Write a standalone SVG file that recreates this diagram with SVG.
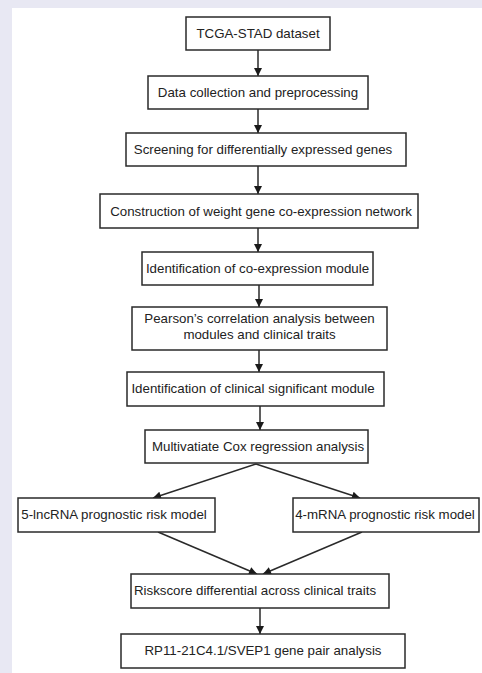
<svg xmlns="http://www.w3.org/2000/svg" width="482" height="673" viewBox="0 0 482 673">
<style>
.box{fill:#fff;stroke:#2a2a2a;stroke-width:1.5}
.t{font-family:"Liberation Sans",Arial,sans-serif;font-size:13.3px;fill:#222;text-anchor:middle;dominant-baseline:central}
.c{stroke:#2a2a2a;stroke-width:1.5;fill:none;marker-end:url(#ah)}
</style>
<defs>
<marker id="ah" viewBox="0 0 10 10" refX="10" refY="5" markerWidth="9" markerHeight="8" markerUnits="userSpaceOnUse" orient="auto">
<path d="M0,0 L10,5 L0,10 z" fill="#1a1a1a"/>
</marker>
</defs>
<rect x="0" y="0" width="482" height="673" fill="#e8e8f3"/>
<rect x="12" y="8" width="470" height="665" fill="#fff"/>
<g id="connectors">
<line class="c" x1="258" y1="50" x2="258" y2="76"/>
<line class="c" x1="258" y1="109" x2="258" y2="133"/>
<line class="c" x1="258" y1="166" x2="258" y2="194"/>
<line class="c" x1="258" y1="228" x2="258" y2="252"/>
<line class="c" x1="259" y1="285" x2="259" y2="307"/>
<line class="c" x1="259" y1="350" x2="259" y2="372"/>
<line class="c" x1="260" y1="406" x2="260" y2="430"/>
<line class="c" x1="256" y1="464" x2="153" y2="498"/>
<line class="c" x1="256" y1="464" x2="360" y2="498"/>
<line class="c" x1="158" y1="532" x2="257" y2="574"/>
<line class="c" x1="362" y1="532" x2="263" y2="574"/>
<line class="c" x1="260" y1="608" x2="260" y2="634"/>
</g>
<g id="n1"><rect class="box" x="186" y="17" width="144" height="33"/><text class="t" x="258" y="33.5">TCGA-STAD dataset</text></g>
<g id="n2"><rect class="box" x="148" y="76" width="220" height="33"/><text class="t" x="258" y="92.5">Data collection and preprocessing</text></g>
<g id="n3"><rect class="box" x="126" y="133" width="280" height="33"/><text class="t" x="263" y="149.5">Screening for differentially expressed genes</text></g>
<g id="n4"><rect class="box" x="100" y="194" width="318" height="34"/><text class="t" x="261" y="211">Construction of weight gene co-expression network</text></g>
<g id="n5"><rect class="box" x="142" y="252" width="231" height="33"/><text class="t" x="257.5" y="268">Identification of co-expression module</text></g>
<g id="n6"><rect class="box" x="132" y="307" width="255" height="43"/><text class="t" x="259.5" y="318.5">Pearson’s correlation analysis between</text><text class="t" x="259.5" y="334.5">modules and clinical traits</text></g>
<g id="n7"><rect class="box" x="127" y="372" width="257" height="34"/><text class="t" x="253" y="388.5">Identification of clinical significant module</text></g>
<g id="n8"><rect class="box" x="145" y="430" width="223" height="33"/><text class="t" x="258" y="446">Multivatiate Cox regression analysis</text></g>
<g id="n9"><rect class="box" x="18" y="498" width="197" height="34"/><text class="t" x="114" y="514.5">5-lncRNA prognostic risk model</text></g>
<g id="n10"><rect class="box" x="293" y="498" width="186" height="34"/><text class="t" x="385" y="514.5">4-mRNA prognostic risk model</text></g>
<g id="n11"><rect class="box" x="131" y="574" width="258" height="34"/><text class="t" x="255" y="590">Riskscore differential across clinical traits</text></g>
<g id="n12"><rect class="box" x="121" y="634" width="284" height="34"/><text class="t" x="263" y="650.5">RP11-21C4.1/SVEP1 gene pair analysis</text></g>
</svg>
